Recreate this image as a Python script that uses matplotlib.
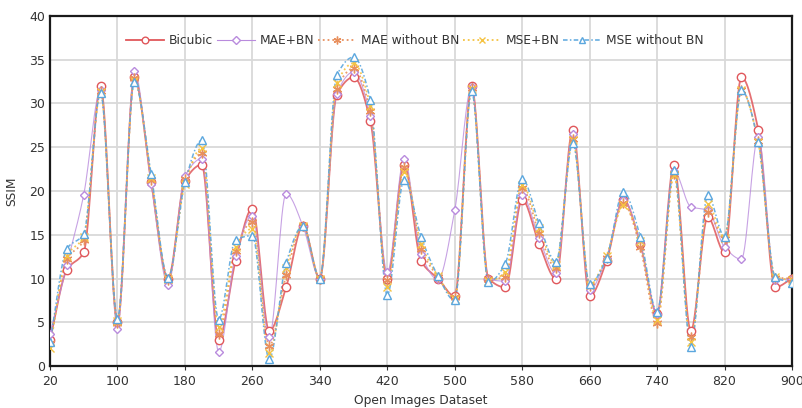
import numpy as np
import matplotlib
matplotlib.use("Agg")
import matplotlib.pyplot as plt

x_vals = [20, 40, 60, 80, 100, 120, 140, 160, 180, 200, 220, 240, 260, 280, 300,
          320, 340, 360, 380, 400, 420, 440, 460, 480, 500, 520, 540, 560, 580, 600,
          620, 640, 660, 680, 700, 720, 740, 760, 780, 800, 820, 840, 860, 880, 900]

bicubic = [3, 11, 13, 32, 5, 33, 21, 10, 21.2, 23,
           3, 12, 18, 4, 9, 16, 10, 31, 33, 28,
           10, 23, 12, 10, 8, 32, 10, 9, 19, 14,
           10, 27, 8, 12, 19, 14, 6, 23, 4, 17,
           13, 33, 27, 9, 10]
mae_bn = [3.7, 11.6, 19.6, 31.5, 4.2, 33.7, 20.8, 9.3, 21.7, 23.7,
          1.6, 12.6, 17.2, 3.3, 19.7, 16.0, 10.0, 31.1, 33.6, 28.6,
          10.7, 23.7, 12.8, 9.9, 17.8, 31.9, 9.9, 9.7, 19.5, 14.6,
          10.6, 26.5, 8.7, 12.4, 19.0, 14.0, 6.0, 22.3, 18.2, 17.8,
          13.6, 12.2, 26.2, 9.8, 10.0]
mae_nobn = [2.6, 12.2, 14.4, 31.4, 4.9, 32.9, 21.3, 9.8, 21.4, 24.3,
            3.7, 13.2, 16.5, 2.3, 10.4, 16.0, 10.0, 31.7, 34.0, 29.1,
            9.8, 22.8, 13.4, 10.2, 7.9, 31.8, 9.9, 10.2, 20.3, 15.2,
            11.2, 26.0, 9.2, 12.4, 18.6, 13.6, 4.9, 22.0, 3.3, 17.6,
            14.5, 31.5, 25.7, 10.1, 10.0]
mse_bn = [2.1, 12.6, 14.8, 31.3, 5.1, 32.6, 21.5, 10.0, 20.8, 24.9,
          4.5, 13.6, 15.7, 1.5, 11.2, 16.0, 10.0, 32.3, 34.6, 29.7,
          9.0, 22.2, 14.0, 10.3, 7.7, 31.6, 9.7, 10.8, 20.7, 15.8,
          11.6, 25.8, 9.3, 12.6, 18.4, 14.3, 5.3, 21.8, 2.8, 18.5,
          14.6, 31.5, 25.6, 10.2, 9.8]
mse_nobn = [2.7, 13.4, 15.1, 31.2, 5.4, 32.5, 21.9, 10.1, 21.0, 25.8,
            5.3, 14.4, 14.9, 0.8, 11.8, 16.0, 10.0, 33.2, 35.3, 30.4,
            8.1, 21.3, 14.8, 10.3, 7.5, 31.4, 9.6, 11.7, 21.4, 16.3,
            11.9, 25.5, 9.4, 12.3, 19.9, 14.8, 6.2, 22.4, 2.2, 19.5,
            14.8, 31.5, 25.6, 10.2, 9.5]

series_names = ["Bicubic", "MAE+BN", "MAE without BN", "MSE+BN", "MSE without BN"]
x_ticks = [20, 100, 180, 260, 340, 420, 500, 580, 660, 740, 820, 900]

plt.rcParams['font.family'] = ['DejaVu Sans']


def smooth(x, y, n=16):
    """Monotone cubic (Fritsch-Carlson) interpolation for drawing the curve."""
    x = np.asarray(x, float)
    y = np.asarray(y, float)
    h = np.diff(x)
    d = np.diff(y) / h
    m = np.zeros_like(y)
    m[0], m[-1] = d[0], d[-1]
    for i in range(1, len(y) - 1):
        if d[i - 1] * d[i] > 0:
            m[i] = 2.0 / (1.0 / d[i - 1] + 1.0 / d[i])
        else:
            m[i] = 0.0
    xs, ys = [], []
    t = np.linspace(0, 1, n, endpoint=False)
    for i in range(len(x) - 1):
        h00 = 2 * t**3 - 3 * t**2 + 1
        h10 = t**3 - 2 * t**2 + t
        h01 = -2 * t**3 + 3 * t**2
        h11 = t**3 - t**2
        ys.append(h00 * y[i] + h10 * h[i] * m[i] + h01 * y[i + 1] + h11 * h[i] * m[i + 1])
        xs.append(x[i] + t * h[i])
    xs.append([x[-1]])
    ys.append([y[-1]])
    return np.concatenate(xs), np.concatenate(ys)


fig = plt.figure(figsize=(8.03, 4.08), dpi=100)
ax = fig.add_axes([0.0623, 0.1029, 0.9240, 0.8579])

styles = [
    dict(color="#E0575B", ls="-", lw=1.3, marker="o", ms=6, mfc="white", alpha=0.85),
    dict(color="#B98BDD", ls="-", lw=0.8, marker="D", ms=4.5, mfc="white", alpha=0.8),
    dict(color="#E8905E", ls=":", lw=1.3, marker=(6, 2, 0), ms=7, mfc="#E8905E", alpha=0.9),
    dict(color="#F5C342", ls=":", lw=1.3, marker="x", ms=5.5, mfc="#F5C342", alpha=0.9),
    dict(color="#5BA7DE", ls=(0, (3, 1.5, 1, 1.5)), lw=1.1, marker="^", ms=6, mfc="white", alpha=0.9),
]
all_series = [bicubic, mae_bn, mae_nobn, mse_bn, mse_nobn]

for name, ys, st in zip(series_names, all_series, styles):
    sx, sy = smooth(x_vals, ys)
    ax.plot(sx, sy, color=st["color"], ls=st["ls"], lw=st["lw"], alpha=st["alpha"], zorder=3)
    ax.plot(x_vals, ys, ls="none", marker=st["marker"], ms=st["ms"], mfc=st["mfc"],
            mec=st["color"], mew=1.0, zorder=4)
    ax.plot([], [], color=st["color"], ls=st["ls"], lw=st["lw"], marker=st["marker"],
            ms=st["ms"] * 0.8, mfc=st["mfc"], mec=st["color"], label=name)

ax.set_xlim(20, 900)
ax.set_ylim(0, 40)
ax.set_xticks(x_ticks)
ax.set_yticks(range(0, 41, 5))
ax.grid(True, color="#D9D9D9", lw=1.3)
ax.set_axisbelow(True)
for s in ax.spines.values():
    s.set_linewidth(1.6)
    s.set_color("#1A1A1A")
ax.tick_params(axis="both", labelsize=9, colors="#333333", length=3)
ax.tick_params(axis="y", length=0)
ax.set_xlabel("Open Images Dataset", fontsize=8.8, color="#333333", labelpad=4)
ax.set_ylabel("SSIM", fontsize=8.8, color="#333333", labelpad=8)

leg = ax.legend(loc="upper center", bbox_to_anchor=(0.492, 0.98), ncol=5, frameon=False,
                fontsize=8.8, handlelength=3.1, columnspacing=0.3, handletextpad=0.4,
                labelcolor="#333333")

fig.savefig("out.png", dpi=100)
